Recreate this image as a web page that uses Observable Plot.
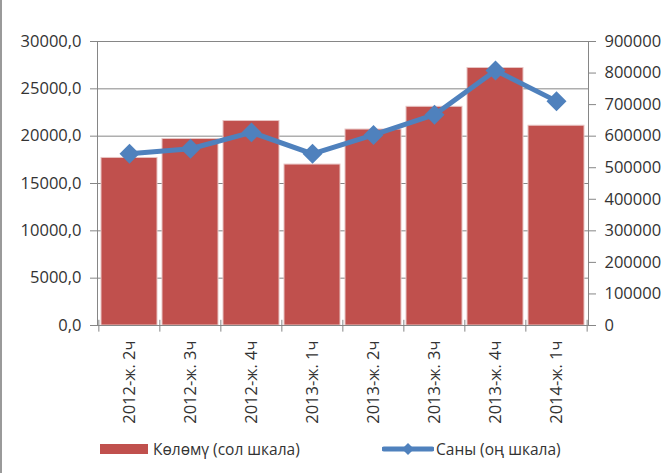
<!DOCTYPE html>
<html>
<head>
<meta charset="utf-8">
<script src="https://cdn.jsdelivr.net/npm/d3@7"></script>
<script src="https://cdn.jsdelivr.net/npm/@observablehq/plot@0.6"></script>
<style>
  html, body { margin: 0; padding: 0; background: #fff; }
  #wrap { position: relative; width: 670px; height: 473px; overflow: hidden; font-family: "Open Sans", "Noto Sans", sans-serif; color: #333; }
  #border { position: absolute; left: 0; top: 0; width: 2px; height: 473px; background: #9a9a9a; }
  #legend { position: absolute; left: 0; top: 432px; width: 670px; height: 41px; font-size: 15.5px; }
  .item { position: absolute; top: 7px; display: flex; align-items: center; height: 20px; }
  .item svg { display: block; margin-right: 5px; }
</style>
</head>
<body>
<div id="wrap">
  <div id="chart"></div>
  <div id="border"></div>
  <div id="legend"></div>
</div>
<script>
const categories = ["2012-ж. 2ч", "2012-ж. 3ч", "2012-ж. 4ч", "2013-ж. 1ч", "2013-ж. 2ч", "2013-ж. 3ч", "2013-ж. 4ч", "2014-ж. 1ч"];
const volume = [17700, 19700, 21600, 17000, 20700, 23100, 27200, 21100];   // Көлөмү (left scale)
const count = [544000, 560000, 612000, 544000, 604000, 668000, 808000, 711000]; // Саны (right scale)
const leftTicks = [0, 5000, 10000, 15000, 20000, 25000, 30000];
const rightTicks = [0, 100000, 200000, 300000, 400000, 500000, 600000, 700000, 800000, 900000];
const seriesNames = ["Көлөмү (сол шкала)", "Саны (оң шкала)"];

const ratio = 900000 / 30000; // right scale / left scale
const data = categories.map((c, i) => ({cat: c, volume: volume[i], count: count[i]}));

const barColor = "#C0504D";
const lineColor = "#4F81BD";
const axisColor = "#868686";

const pIn = 0.09, pOut = 0.05;
const mL = 97, mR = 82, W = 670;
const step = (W - mL - mR) / (categories.length - pIn + 2 * pOut);

const plot = Plot.plot({
  width: W,
  height: 432,
  marginTop: 41,
  marginBottom: 107,
  marginLeft: mL,
  marginRight: mR,
  style: {fontFamily: "'Open Sans', 'Noto Sans', sans-serif", fontSize: "16.5px", color: "#333", background: "white", overflow: "visible"},
  x: {type: "band", domain: categories, paddingInner: pIn, paddingOuter: pOut, label: null},
  y: {domain: [0, 30000], label: null},
  marks: [
    Plot.gridY(leftTicks, {stroke: axisColor, strokeOpacity: 1}),
    Plot.barY(data, {x: "cat", y: "volume", fill: barColor, stroke: "#E8C4C3", strokeWidth: 1}),
    Plot.frame({stroke: axisColor}),
    Plot.axisY(leftTicks, {anchor: "left", tickFormat: d => d3.format(".1f")(d).replace(".", ","), tickSize: 7, tickPadding: 9, stroke: axisColor, fill: "#333", label: null}),
    Plot.axisY(rightTicks.map(v => v / ratio), {anchor: "right", tickFormat: d => String(Math.round(d * ratio)), tickSize: 7, tickPadding: 9, stroke: axisColor, fill: "#333", label: null}),
    Plot.ruleX(categories, {x: d => d, dx: -step / 2, y1: 550, y2: -700, stroke: axisColor}),
    Plot.ruleX(categories.slice(-1), {x: d => d, dx: step / 2, y1: 550, y2: -700, stroke: axisColor}),
    Plot.axisX({tickRotate: -90, tickSize: 0, tickPadding: 15, fill: "#333", label: null}),
    Plot.line(data, {x: "cat", y: d => d.count / ratio, stroke: lineColor, strokeWidth: 5, strokeLinejoin: "round", strokeLinecap: "round"}),
    Plot.dot(data, {x: "cat", y: d => d.count / ratio, symbol: "diamond2", r: 9, fill: lineColor, stroke: "none"})
  ]
});
document.getElementById("chart").appendChild(plot);

const legend = document.getElementById("legend");
legend.innerHTML = `
  <div class="item" style="left:100px">
    <svg width="48" height="12"><rect x="0" y="1" width="48" height="10" fill="${barColor}"/></svg>
    <span>${seriesNames[0]}</span>
  </div>
  <div class="item" style="left:382px">
    <svg width="52" height="14"><line x1="2" y1="7" x2="50" y2="7" stroke="${lineColor}" stroke-width="5" stroke-linecap="round"/><path d="M26 1 L32 7 L26 13 L20 7 Z" fill="${lineColor}"/></svg>
    <span style="margin-left:-3px">${seriesNames[1]}</span>
  </div>`;
</script>
</body>
</html>
